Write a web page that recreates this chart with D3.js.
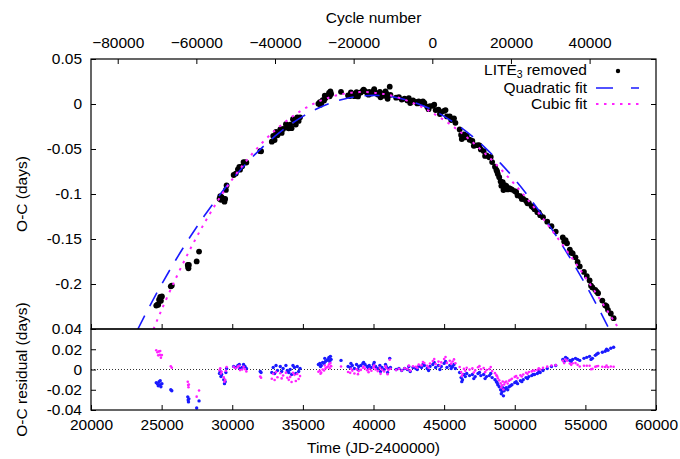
<!DOCTYPE html>
<html>
<head>
<meta charset="utf-8">
<script src="https://cdn.jsdelivr.net/npm/d3@7/dist/d3.min.js"></script>
<style>
  body { margin: 0; background: #fff; }
  svg text { font-family: "Liberation Sans", Arial, Helvetica, sans-serif; font-size: 15.5px; fill: #000; }
</style>
</head>
<body>
<svg id="chart" width="680" height="459"></svg>
<script>
// Times of minima (JD-2400000)
const times = [
  24620,24700,24760,24820,24880,24950,25020,
  25650,25720,
  26850,26880,26900,26930,
  27480,27650,
  29100,29150,29200,29250,29400,29450,29500,29550,29600,
  30100,30250,30400,30550,30700,30800,30900,31000,
  31980,32040,
  32800,32900,33000,33200,33400,33500,33600,33800,34000,34100,34200,34400,34500,34600,34700,34800,
  36100,36200,36300,36400,36500,36600,36700,36800,36850,36900,37000,
  37700,
  38200,38350,38500,38650,38800,38950,39100,39250,39400,39550,39700,39850,40000,40150,40300,40450,40600,40750,40900,41050,41150,41200,
  41600,41800,42000,42200,42400,42600,42800,43000,43200,43400,43600,43800,44000,44200,44400,44600,44800,45000,45200,45400,45600,45800,
  46100,46200,46300,46400,46600,46800,47000,47200,47400,47600,47800,48000,48200,48400,
  48600,48700,48800,48900,49000,49100,49200,49250,49300,49400,
  49600,49800,50000,50200,50400,50600,50800,51000,51200,51400,51600,51800,
  52000,52300,52600,52900,
  53400,53500,53700,53900,54100,54300,54600,54900,
  55100,55300,55500,55700,55900,
  56200,56400,56600,56800,57000,
  24900,30500,33100,33900,34300,36250,36550,36950,38400,38900,39300,39650,40050,40500,40850,41000,
  42500,43100,43500,43900,44300,44700,45100,45500,45700,46250,46500,47100,47500,47900,48300,48750,
  49050,49150,49500,49700,50100,50500,50900,51300,51700,53600,54000,54450,55400,55800,56500
];

// O-C with the LITE_3 term removed (days)
const ocValues = [
  -0.224,-0.223,-0.223,-0.2174,-0.2187,-0.2187,-0.2138,
  -0.2026,-0.2017,
  -0.1789,-0.1811,-0.1826,-0.1789,
  -0.1749,-0.164,
  -0.1053,-0.1024,-0.1064,-0.1034,-0.1055,-0.1085,-0.1055,-0.0955,-0.0905,
  -0.0789,-0.0773,-0.0726,-0.073,-0.0693,-0.0645,-0.0648,-0.065,
  -0.0524,-0.0525,
  -0.0419,-0.0355,-0.0401,-0.0347,-0.0283,-0.0321,-0.0278,-0.0224,-0.027,-0.023,-0.0269,-0.0179,-0.0229,-0.0148,-0.0188,-0.0148,
  0.0003,0.002,0.0006,0.0043,0.0039,0.0066,0.0082,0.0099,0.0122,0.0086,0.0112,
  0.0135,
  0.0095,0.0089,0.0113,0.0087,0.0131,0.0116,0.0128,0.0149,0.0142,0.0123,0.0135,0.0116,0.0146,0.0126,0.0105,0.0134,0.0113,0.0091,0.0118,0.0096,0.0193,0.0102,
  0.007,0.0075,0.0049,0.006,0.004,0.0011,0.0041,0.0022,0.0029,0.0006,0.0013,-0.003,-0.0023,-0.002,-0.0067,-0.0063,-0.009,-0.0077,-0.0138,-0.0138,-0.0169,-0.0209,
  -0.0282,-0.0344,-0.0376,-0.0338,-0.0353,-0.0397,-0.0411,-0.0459,-0.0457,-0.0505,-0.0523,-0.0571,-0.0593,-0.0645,
  -0.0696,-0.0732,-0.0778,-0.0814,-0.086,-0.0898,-0.0956,-0.0914,-0.0903,-0.0911,
  -0.0936,-0.0951,-0.0967,-0.1016,-0.1025,-0.1055,-0.1074,-0.1103,-0.1136,-0.1169,-0.1202,-0.1235,
  -0.1258,-0.1308,-0.1358,-0.1418,
  -0.1482,-0.1527,-0.1547,-0.1618,-0.166,-0.1704,-0.1805,-0.1866,
  -0.1912,-0.196,-0.2038,-0.2065,-0.2103,
  -0.2184,-0.2235,-0.2287,-0.2328,-0.238,
  -0.2142,-0.0699,-0.0309,-0.0262,-0.0169,-0.0007,0.0093,0.0139,0.013,0.0084,0.016,0.0104,0.0166,0.0074,0.0139,0.0057,
  0.0066,0.0006,0.0029,-0.0057,-0.0008,-0.0112,-0.0067,-0.0178,-0.0159,-0.039,-0.037,-0.0465,-0.0461,-0.0577,-0.0589,-0.075,
  -0.0909,-0.0867,-0.0949,-0.0944,-0.0977,-0.1055,-0.1103,-0.1148,-0.1204,-0.1512,-0.1653,-0.1755,-0.2019,-0.2084,-0.2246
];

// Residuals after the quadratic fit (days)
const quadResiduals = [
  -0.013,-0.014,-0.016,-0.012,-0.015,-0.017,-0.014,
  -0.020,-0.021,
  -0.027,-0.030,-0.032,-0.029,
  -0.038,-0.031,
  -0.004,-0.002,-0.007,-0.005,-0.010,-0.014,-0.012,-0.003,0.001,
  0.003,0.002,0.004,0.001,0.002,0.005,0.003,0.001,
  -0.002,-0.003,
  -0.003,0.002,-0.004,-0.001,0.003,-0.002,0.001,0.004,-0.003,0.000,-0.005,0.002,-0.004,0.003,-0.002,0.001,
  0.005,0.006,0.004,0.007,0.006,0.008,0.009,0.010,0.012,0.008,0.010,
  0.009,
  0.003,0.002,0.004,0.001,0.005,0.003,0.004,0.006,0.005,0.003,0.004,0.002,0.005,0.003,0.001,0.004,0.002,0.000,0.003,0.001,0.011,0.002,
  0.000,0.001,-0.001,0.001,0.000,-0.002,0.002,0.001,0.003,0.002,0.004,0.001,0.003,0.005,0.002,0.004,0.003,0.006,0.002,0.004,0.003,0.001,
  -0.003,-0.008,-0.010,-0.005,-0.004,-0.006,-0.005,-0.007,-0.004,-0.006,-0.005,-0.007,-0.006,-0.008,
  -0.010,-0.012,-0.015,-0.017,-0.020,-0.022,-0.026,-0.021,-0.019,-0.018,
  -0.017,-0.015,-0.013,-0.014,-0.011,-0.010,-0.008,-0.007,-0.006,-0.005,-0.004,-0.003,
  -0.001,0.001,0.003,0.004,
  0.010,0.008,0.011,0.009,0.010,0.011,0.009,0.011,
  0.012,0.013,0.011,0.014,0.016,
  0.017,0.018,0.019,0.021,0.022,
  -0.011,0.005,0.004,-0.001,0.004,0.003,0.011,0.013,0.006,0.000,0.007,0.001,0.007,-0.002,0.005,-0.003,
  0.003,0.000,0.005,-0.001,0.007,0.000,0.008,0.001,0.005,-0.012,-0.007,-0.009,-0.003,-0.009,-0.004,-0.013,
  -0.024,-0.018,-0.020,-0.016,-0.012,-0.012,-0.009,-0.005,-0.002,0.012,0.008,0.010,0.010,0.015,0.020
];

// Residuals after the cubic fit (days)
const cubicResiduals = [
  0.019,0.017,0.014,0.0179,0.0144,0.0117,0.0142,
  0.0032,0.0017,
  -0.0121,-0.0154,-0.0176,-0.0148,
  -0.0268,-0.0207,
  -0.0007,0.0012,-0.004,-0.0022,-0.0078,-0.012,-0.0101,-0.0013,0.0025,
  0.0027,0.0013,0.0028,-0.0006,0.0,0.0027,0.0004,-0.0019,
  -0.007,-0.0081,
  -0.0092,-0.0043,-0.0104,-0.0076,-0.0037,-0.0088,-0.0059,-0.0031,-0.0102,-0.0073,-0.0123,-0.0053,-0.0114,-0.0044,-0.0094,-0.0065,
  -0.0022,-0.0012,-0.0031,0.0,-0.001,0.0011,0.0021,0.0032,0.0052,0.0013,0.0033,
  0.003,
  -0.0025,-0.0033,-0.0011,-0.0039,0.0003,-0.0016,-0.0004,0.0018,0.001,-0.0008,0.0005,-0.0013,0.0019,0.0001,-0.0016,0.0016,-0.0002,-0.002,0.0013,-0.0005,0.0097,0.0008,
  -0.0006,0.0007,-0.001,0.0013,0.0006,-0.0011,0.0032,0.0026,0.0048,0.0041,0.0064,0.0037,0.006,0.0083,0.0055,0.0078,0.007,0.0103,0.0065,0.0087,0.0079,0.0061,
  0.0024,-0.0025,-0.0045,0.0006,0.0018,-0.0001,0.0011,-0.0009,0.0022,0.0003,0.0014,-0.0006,0.0004,-0.0016,
  -0.0036,-0.0056,-0.0086,-0.0107,-0.0137,-0.0157,-0.0198,-0.0148,-0.0128,-0.0119,
  -0.011,-0.0092,-0.0073,-0.0085,-0.0058,-0.005,-0.0032,-0.0025,-0.0019,-0.0012,-0.0006,0.0,
  0.0016,0.0028,0.004,0.0043,
  0.0086,0.0063,0.0086,0.0059,0.0061,0.0063,0.003,0.0037,
  0.0037,0.0037,0.0006,0.0026,0.0035,
  0.0027,0.0025,0.0022,0.003,0.0027,
  0.0182,0.0036,-0.0025,-0.0081,-0.0033,-0.0041,0.004,0.0063,0.0008,-0.0046,0.0029,-0.0026,0.004,-0.0043,0.0032,-0.0046,
  0.0038,0.0017,0.0073,0.0018,0.0104,0.0039,0.0124,0.0058,0.010,-0.0065,-0.0013,-0.0029,0.0033,-0.0026,0.0024,-0.0066,
  -0.0177,-0.0118,-0.0139,-0.0101,-0.0064,-0.0069,-0.0043,-0.001,0.0012,0.0099,0.0046,0.0046,0.0002,0.0031,0.0039
];

// Quadratic ephemeris fit, sampled along the time axis
const quadFitTimes = [23320,24000,25000,26000,27000,28000,29000,30000,31000,32000,33000,34000,35000,36000,37000,38000,39000,40000,
  41000,42000,43000,44000,45000,46000,47000,48000,49000,50000,51000,52000,53000,54000,55000,56000,56680];
const quadFitValues = [-0.25,-0.2292,-0.2003,-0.1733,-0.1481,-0.1248,-0.1033,-0.0837,-0.0660,-0.0501,-0.0361,-0.0240,-0.0137,-0.0053,0.0012,0.0059,0.0087,0.0096,
  0.0087,0.0059,0.0012,-0.0053,-0.0137,-0.0240,-0.0361,-0.0501,-0.0660,-0.0837,-0.1033,-0.1248,-0.1481,-0.1733,-0.2003,-0.2292,-0.25];

// Cubic ephemeris fit, sampled along the time axis
const cubicFitTimes = [24426,25000,26000,27000,28000,29000,30000,31000,32000,33000,34000,35000,36000,37000,38000,39000,40000,
  41000,42000,43000,44000,45000,46000,47000,48000,49000,50000,51000,52000,53000,54000,55000,56000,57000,57380];
const cubicFitValues = [-0.25,-0.2286,-0.1939,-0.1620,-0.1331,-0.1070,-0.0837,-0.0631,-0.0451,-0.0297,-0.0168,-0.0062,0.0020,0.0079,0.0116,0.0132,0.0127,
  0.0103,0.0059,-0.0003,-0.0083,-0.0180,-0.0293,-0.0422,-0.0565,-0.0723,-0.0894,-0.1078,-0.1274,-0.1481,-0.1699,-0.1926,-0.2162,-0.2407,-0.25];

// Axis ticks
const timeTicks = [20000,25000,30000,35000,40000,45000,50000,55000,60000];
const cycleTicks = [-80000,-60000,-40000,-20000,0,20000,40000];
const ocTicks = [0.05,0,-0.05,-0.1,-0.15,-0.2];
const residualTicks = [0.04,0.02,0,-0.02,-0.04];

// Linear ephemeris relating time and cycle number
const epoch = 44163;
const period = 0.2784;

const svg = d3.select("#chart");
const left = 91, right = 656;
const topY = 59, midY = 329, bottomY = 410;
const tickLen = 5;

const x = d3.scaleLinear().domain([20000, 60000]).range([left, right]);
const xCycle = d3.scaleLinear()
  .domain([(20000 - epoch) / period, (60000 - epoch) / period])
  .range([left, right]);
const yTop = d3.scaleLinear().domain([-0.25, 0.05]).range([midY, topY]);
const yBot = d3.scaleLinear().domain([-0.04, 0.04]).range([bottomY, midY]);

const defs = svg.append("defs");
defs.append("clipPath").attr("id", "clipTop")
  .append("rect").attr("x", left).attr("y", topY).attr("width", right - left).attr("height", midY - topY);
defs.append("clipPath").attr("id", "clipBot")
  .append("rect").attr("x", left).attr("y", midY).attr("width", right - left).attr("height", bottomY - midY);

const points = times.map((t, i) => ({ t, oc: ocValues[i], rq: quadResiduals[i], rc: cubicResiduals[i] }));

// ---- upper panel: O-C and fits ----
const topG = svg.append("g").attr("clip-path", "url(#clipTop)");
topG.selectAll("circle.obs").data(points).join("circle")
  .attr("class", "obs")
  .attr("cx", d => x(d.t)).attr("cy", d => yTop(d.oc)).attr("r", 2.9).attr("fill", "#000");

const fitLine = d3.line().x(d => x(d[0])).y(d => yTop(d[1])).curve(d3.curveCatmullRom);
topG.append("path")
  .datum(quadFitTimes.map((t, i) => [t, quadFitValues[i]]))
  .attr("d", fitLine).attr("fill", "none").attr("stroke", "#1a1aff")
  .attr("stroke-width", 1.6).attr("stroke-dasharray", "15,11");
topG.append("path")
  .datum(cubicFitTimes.map((t, i) => [t, cubicFitValues[i]]))
  .attr("d", fitLine).attr("fill", "none").attr("stroke", "#ff22ff")
  .attr("stroke-width", 2).attr("stroke-dasharray", "2.5,5.5");

// ---- lower panel: residuals ----
const botG = svg.append("g").attr("clip-path", "url(#clipBot)");
botG.append("line")
  .attr("x1", left).attr("x2", right).attr("y1", yBot(0)).attr("y2", yBot(0))
  .attr("stroke", "#000").attr("stroke-width", 0.8).attr("stroke-dasharray", "1,2");
botG.selectAll("circle.rq").data(points).join("circle")
  .attr("class", "rq")
  .attr("cx", d => x(d.t)).attr("cy", d => yBot(d.rq)).attr("r", 1.7).attr("fill", "#1a1aff");
botG.selectAll("circle.rc").data(points).join("circle")
  .attr("class", "rc")
  .attr("cx", d => x(d.t)).attr("cy", d => yBot(d.rc)).attr("r", 1.3).attr("fill", "#ff22ff");

// ---- axes ----
function styleAxis(g) {
  g.select(".domain").remove();
  g.selectAll(".tick line").attr("stroke", "#000");
  g.selectAll(".tick text").style("font-size", "15.5px").attr("fill", "#000");
}
const numFmt = d => d === 0 ? "0" : String(+d.toFixed(2));

// upper panel
svg.append("g").attr("transform", `translate(${left},0)`)
  .call(d3.axisLeft(yTop).tickValues(ocTicks).tickSizeInner(-tickLen).tickSizeOuter(0).tickPadding(9).tickFormat(numFmt))
  .call(styleAxis);
svg.append("g").attr("transform", `translate(${right},0)`)
  .call(d3.axisRight(yTop).tickValues(ocTicks).tickSizeInner(-tickLen).tickSizeOuter(0).tickFormat(() => ""))
  .call(styleAxis);
svg.append("g").attr("transform", `translate(0,${topY})`)
  .call(d3.axisTop(xCycle).tickValues(cycleTicks).tickSizeInner(-tickLen).tickSizeOuter(0).tickPadding(11)
    .tickFormat(d3.format("d")))
  .call(styleAxis);
svg.append("g").attr("transform", `translate(0,${midY})`)
  .call(d3.axisBottom(x).tickValues(timeTicks).tickSizeInner(-tickLen).tickSizeOuter(0).tickFormat(() => ""))
  .call(styleAxis);

// lower panel
svg.append("g").attr("transform", `translate(${left},0)`)
  .call(d3.axisLeft(yBot).tickValues(residualTicks).tickSizeInner(-tickLen).tickSizeOuter(0).tickPadding(9).tickFormat(numFmt))
  .call(styleAxis);
svg.append("g").attr("transform", `translate(${right},0)`)
  .call(d3.axisRight(yBot).tickValues(residualTicks).tickSizeInner(-tickLen).tickSizeOuter(0).tickFormat(() => ""))
  .call(styleAxis);
svg.append("g").attr("transform", `translate(0,${bottomY})`)
  .call(d3.axisBottom(x).tickValues(timeTicks).tickSizeInner(-tickLen).tickSizeOuter(0).tickPadding(9)
    .tickFormat(d3.format("d")))
  .call(styleAxis);

// frames
svg.append("rect").attr("x", left).attr("y", topY).attr("width", right - left).attr("height", midY - topY)
  .attr("fill", "none").attr("stroke", "#000").attr("stroke-width", 1.2);
svg.append("rect").attr("x", left).attr("y", midY).attr("width", right - left).attr("height", bottomY - midY)
  .attr("fill", "none").attr("stroke", "#000").attr("stroke-width", 1.2);

// axis titles
svg.append("text").attr("x", (left + right) / 2).attr("y", 23).attr("text-anchor", "middle").text("Cycle number");
svg.append("text").attr("x", (left + right) / 2).attr("y", 453).attr("text-anchor", "middle").text("Time (JD-2400000)");
svg.append("text").attr("transform", `translate(27,${(topY + midY) / 2}) rotate(-90)`)
  .attr("text-anchor", "middle").text("O-C (days)");
svg.append("text").attr("transform", `translate(27,${(midY + bottomY) / 2}) rotate(-90)`)
  .attr("text-anchor", "middle").text("O-C residual (days)");

// legend
const legX = 587, legSampleX0 = 596, legSampleX1 = 639;
const leg = svg.append("g");
const removedText = leg.append("text").attr("x", legX).attr("y", 75).attr("text-anchor", "end").text("removed");
const removedW = removedText.node().getComputedTextLength();
const subText = leg.append("text").attr("y", 78).style("font-size", "10.5px").attr("text-anchor", "end").text("3");
subText.attr("x", legX - removedW - 4);
const subW = subText.node().getComputedTextLength();
leg.append("text").attr("x", legX - removedW - 4 - subW).attr("y", 75).attr("text-anchor", "end").text("LITE");
leg.append("circle").attr("cx", 618).attr("cy", 71).attr("r", 2.2).attr("fill", "#000");
leg.append("text").attr("x", legX).attr("y", 93).attr("text-anchor", "end").text("Quadratic fit");
leg.append("line").attr("x1", legSampleX0).attr("x2", legSampleX1).attr("y1", 88).attr("y2", 88)
  .attr("stroke", "#1a1aff").attr("stroke-width", 1.6).attr("stroke-dasharray", "17,18");
leg.append("text").attr("x", legX).attr("y", 109).attr("text-anchor", "end").text("Cubic fit");
leg.append("line").attr("x1", legSampleX0).attr("x2", legSampleX1).attr("y1", 104).attr("y2", 104)
  .attr("stroke", "#ff22ff").attr("stroke-width", 2).attr("stroke-dasharray", "2.5,5.5");
</script>
</body>
</html>
